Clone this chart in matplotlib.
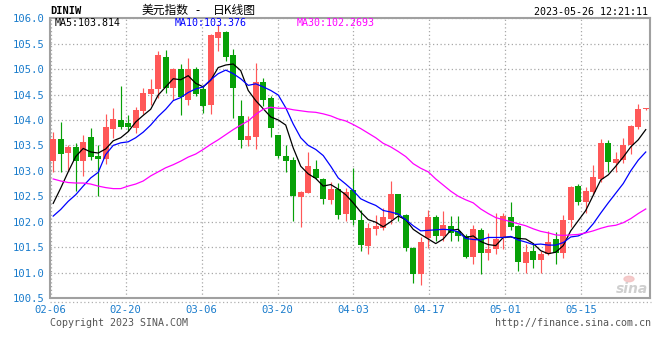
import matplotlib
matplotlib.use("Agg")
import matplotlib.pyplot as plt
from matplotlib.lines import Line2D
from matplotlib.patches import Circle
import numpy as np

# daily candles 02-06 .. 05-26 (one per weekday)
opens = [103.20, 103.63, 103.36, 103.47, 103.20, 103.67, 103.30, 103.24, 103.83, 104.00,
         103.94, 103.84, 104.18, 104.51, 104.61, 105.24, 104.63, 105.00, 104.40, 105.00,
         104.60, 104.29, 105.62, 105.72, 105.28, 104.08, 103.61, 103.67, 104.75, 104.43,
         103.70, 103.29, 103.21, 102.49, 102.57, 103.04, 102.84, 102.42, 102.65, 102.15,
         102.62, 102.04, 101.53, 101.86, 101.88, 102.06, 102.55, 102.13, 101.49, 100.97,
         101.67, 102.09, 101.71, 101.91, 101.81, 101.71, 101.31, 101.84, 101.39, 101.46,
         101.70, 102.09, 101.91, 101.19, 101.42, 101.24, 101.37, 101.66, 101.39, 102.04,
         102.70, 102.39, 102.59, 102.83, 103.55, 103.16, 103.22, 103.50, 103.87, 104.21]
highs = [103.77, 103.95, 103.51, 103.55, 103.70, 103.84, 103.51, 104.12, 104.24, 104.67,
         104.10, 104.26, 104.62, 104.81, 105.35, 105.38, 105.02, 105.10, 105.21, 105.04,
         104.68, 105.68, 105.89, 105.75, 105.40, 104.40, 104.07, 105.11, 104.83, 104.47,
         103.71, 103.50, 103.27, 102.61, 103.37, 103.21, 102.86, 102.78, 102.77, 102.66,
         103.06, 102.23, 101.97, 102.13, 102.26, 102.80, 102.55, 102.16, 101.50, 101.70,
         102.22, 102.14, 102.21, 102.11, 102.11, 101.75, 101.94, 101.88, 101.78, 102.17,
         102.17, 102.39, 101.94, 101.57, 101.57, 101.42, 101.81, 101.80, 102.14, 102.70,
         102.75, 102.68, 103.12, 103.63, 103.61, 103.37, 103.65, 103.91, 104.32, 104.23]
lows = [102.98, 102.98, 103.00, 102.61, 102.89, 103.21, 102.51, 103.14, 103.65, 103.82,
        103.79, 103.75, 104.11, 104.30, 104.43, 104.53, 104.40, 104.09, 104.30, 104.48,
        104.14, 104.11, 105.36, 105.15, 104.03, 103.45, 103.48, 103.42, 104.27, 103.67,
        103.25, 102.98, 102.02, 101.89, 102.57, 102.83, 102.35, 102.34, 102.06, 102.02,
        101.94, 101.42, 101.37, 101.73, 101.84, 101.96, 102.01, 101.42, 100.80, 100.75,
        101.49, 101.62, 101.62, 101.62, 101.62, 101.29, 101.16, 100.97, 101.24, 101.36,
        101.46, 101.84, 101.04, 100.99, 101.08, 100.99, 101.34, 101.17, 101.28, 101.90,
        102.32, 102.18, 102.52, 102.78, 102.97, 102.98, 103.16, 103.33, 103.83, 104.20]
closes = [103.63, 103.34, 103.47, 103.20, 103.57, 103.27, 103.24, 103.86, 104.02, 103.86,
          103.86, 104.19, 104.53, 104.61, 105.28, 104.63, 105.00, 104.45, 105.00, 104.51,
          104.27, 105.66, 105.72, 105.24, 104.63, 103.61, 103.69, 104.75, 104.40, 103.85,
          103.30, 103.20, 102.51, 102.59, 103.10, 102.85, 102.44, 102.65, 102.14, 102.59,
          102.04, 101.55, 101.88, 101.91, 102.10, 102.55, 102.13, 101.49, 100.97, 101.60,
          102.10, 101.71, 101.94, 101.78, 101.71, 101.31, 101.85, 101.39, 101.47, 101.65,
          102.11, 101.90, 101.21, 101.41, 101.24, 101.37, 101.60, 101.39, 102.04, 102.68,
          102.39, 102.60, 102.88, 103.55, 103.18, 103.24, 103.51, 103.88, 104.22, 104.22]

ma5 = [102.36, 102.66, 102.98, 103.28, 103.44, 103.37, 103.35, 103.43, 103.59, 103.65,
       103.77, 103.96, 104.09, 104.21, 104.49, 104.65, 104.81, 104.79, 104.87, 104.72,
       104.65, 104.78, 105.03, 105.08, 105.10, 104.97, 104.58, 104.38, 104.22, 104.06,
       104.00, 103.90, 103.45, 103.09, 102.94, 102.85, 102.70, 102.73, 102.64, 102.53,
       102.37, 102.19, 102.04, 101.99, 101.90, 102.00, 102.11, 102.04, 101.85, 101.75,
       101.66, 101.57, 101.66, 101.83, 101.85, 101.69, 101.72, 101.61, 101.55, 101.53,
       101.69, 101.70, 101.67, 101.66, 101.57, 101.43, 101.37, 101.40, 101.53, 101.82,
       102.02, 102.22, 102.52, 102.82, 102.92, 103.09, 103.27, 103.47, 103.61, 103.81]
ma10 = [102.11, 102.24, 102.40, 102.53, 102.70, 102.86, 102.97, 103.32, 103.50, 103.55,
        103.57, 103.65, 103.76, 103.90, 104.07, 104.21, 104.38, 104.44, 104.54, 104.61,
        104.65, 104.79, 104.91, 104.98, 104.91, 104.81, 104.68, 104.71, 104.65, 104.58,
        104.49, 104.24, 103.92, 103.65, 103.50, 103.42, 103.30, 103.09, 102.86, 102.74,
        102.61, 102.45, 102.38, 102.32, 102.22, 102.19, 102.15, 102.04, 101.92, 101.82,
        101.83, 101.84, 101.85, 101.84, 101.80, 101.67, 101.65, 101.64, 101.69, 101.69,
        101.69, 101.71, 101.64, 101.60, 101.55, 101.56, 101.54, 101.54, 101.59, 101.70,
        101.72, 101.79, 101.96, 102.17, 102.37, 102.56, 102.75, 103.00, 103.21, 103.37]
ma30 = [102.84, 102.80, 102.77, 102.76, 102.76, 102.74, 102.70, 102.67, 102.65, 102.65,
        102.70, 102.74, 102.80, 102.90, 102.98, 103.06, 103.12, 103.19, 103.27, 103.33,
        103.42, 103.52, 103.61, 103.71, 103.81, 103.90, 103.98, 104.11, 104.21, 104.25,
        104.23, 104.23, 104.20, 104.18, 104.16, 104.15, 104.12, 104.08, 104.02, 103.98,
        103.91, 103.83, 103.74, 103.65, 103.54, 103.47, 103.38, 103.28, 103.14, 103.05,
        102.98, 102.84, 102.72, 102.60, 102.50, 102.43, 102.37, 102.25, 102.16, 102.08,
        102.04, 102.00, 101.96, 101.92, 101.86, 101.81, 101.78, 101.74, 101.73, 101.74,
        101.75, 101.78, 101.82, 101.87, 101.91, 101.93, 101.98, 102.06, 102.16, 102.25]

date_labels = ["02-06", "02-20", "03-06", "03-20", "04-03", "04-17", "05-01", "05-15"]

W, H = 660, 360
RED = "#ff5858"
GREEN = "#07a007"
LABEL_BLUE = "#1a7ccc"
MONO = "DejaVu Sans Mono"
CJK = ["Noto Sans CJK SC", "DejaVu Sans"]


def fx(px):
    return px / W


def fy(py):
    return 1 - py / H


fig = plt.figure(figsize=(W / 100, H / 100), dpi=100)
ax = fig.add_axes([fx(50.5), fy(298), 599 / W, (298 - 18.2) / H])

x = np.arange(len(closes))
o = np.array(opens)
c = np.array(closes)
col = np.where(c >= o, RED, GREEN)

ax.vlines(x, lows, highs, colors=col, lw=0.85, zorder=2)
ax.bar(x, np.maximum(np.abs(c - o), 0.02), bottom=np.minimum(o, c),
       width=0.76, color=col, linewidth=0, zorder=3)

ax.plot(x, ma5, color="black", lw=0.9, zorder=4)
ax.plot(x, ma10, color="#0000ff", lw=0.9, zorder=4)
ax.plot(x, ma30, color="#ff00ff", lw=0.9, zorder=4)

ax.set_xlim(-0.36, 79.5)
ax.set_ylim(100.5, 106.0)

yt = np.arange(100.5, 106.01, 0.5)
ax.set_yticks(yt)
ax.set_yticklabels(["%.1f" % v for v in yt])
xt = [-0.36] + [9.67 + 10.12 * k for k in range(7)]
ax.set_xticks(xt)
ax.set_xticklabels(date_labels)

ax.tick_params(length=0, labelsize=7.6, labelcolor=LABEL_BLUE)
ax.tick_params(axis="y", pad=4)
ax.tick_params(axis="x", pad=5)
for lab in ax.get_xticklabels() + ax.get_yticklabels():
    lab.set_family(MONO)

ax.grid(True, linestyle=(0, (1, 2)), color="#a8a8a8", lw=0.9)
ax.set_axisbelow(True)
for s in ax.spines.values():
    s.set_color("#a0a0a0")
    s.set_linewidth(1.5)

# header
fig.text(fx(50.5), fy(11.5), "DINIW", family=MONO, weight="bold", size=7.5, va="center")
fig.text(fx(142), fy(10.5), "美元指数", family=CJK, size=8.5, va="center")
fig.text(fx(198), fy(10.5), "-", family=CJK, size=8.5, va="center", ha="center")
fig.text(fx(213), fy(10.5), "日K线图", family=CJK, size=8.5, va="center")
fig.text(fx(648), fy(12), "2023-05-26 12:21:11", family=MONO, size=7.2, ha="right", va="center")

fig.text(fx(55), fy(23.5), "MA5:103.814", family=MONO, size=7.2, va="center", color="black")
fig.text(fx(175), fy(23.5), "MA10:103.376", family=MONO, size=7.2, va="center", color="#0000ff")
fig.text(fx(297), fy(23.5), "MA30:102.2693", family=MONO, size=7.2, va="center", color="#ff00ff")

# footer
fig.add_artist(Line2D([fx(50), fx(651)], [fy(301.5), fy(301.5)],
                      color="#b0b0b0", lw=0.9, linestyle=(0, (1, 2))))
fig.text(fx(50), fy(323), "Copyright 2023 SINA.COM", family=MONO, size=7.2,
         color="#555555", va="center")
fig.text(fx(651), fy(323), "http://finance.sina.com.cn", family=MONO, size=7.2,
         color="#555555", va="center", ha="right")

# sina watermark
fig.add_artist(Circle((fx(629), fy(279)), 5 / W, color="#f3c0c0", alpha=0.8,
                      transform=fig.transFigure))
fig.text(fx(632), fy(289), "sina", size=10, style="italic", weight="bold",
         color="#cfcfcf", ha="center", va="center")

fig.savefig("out.png", dpi=100)
